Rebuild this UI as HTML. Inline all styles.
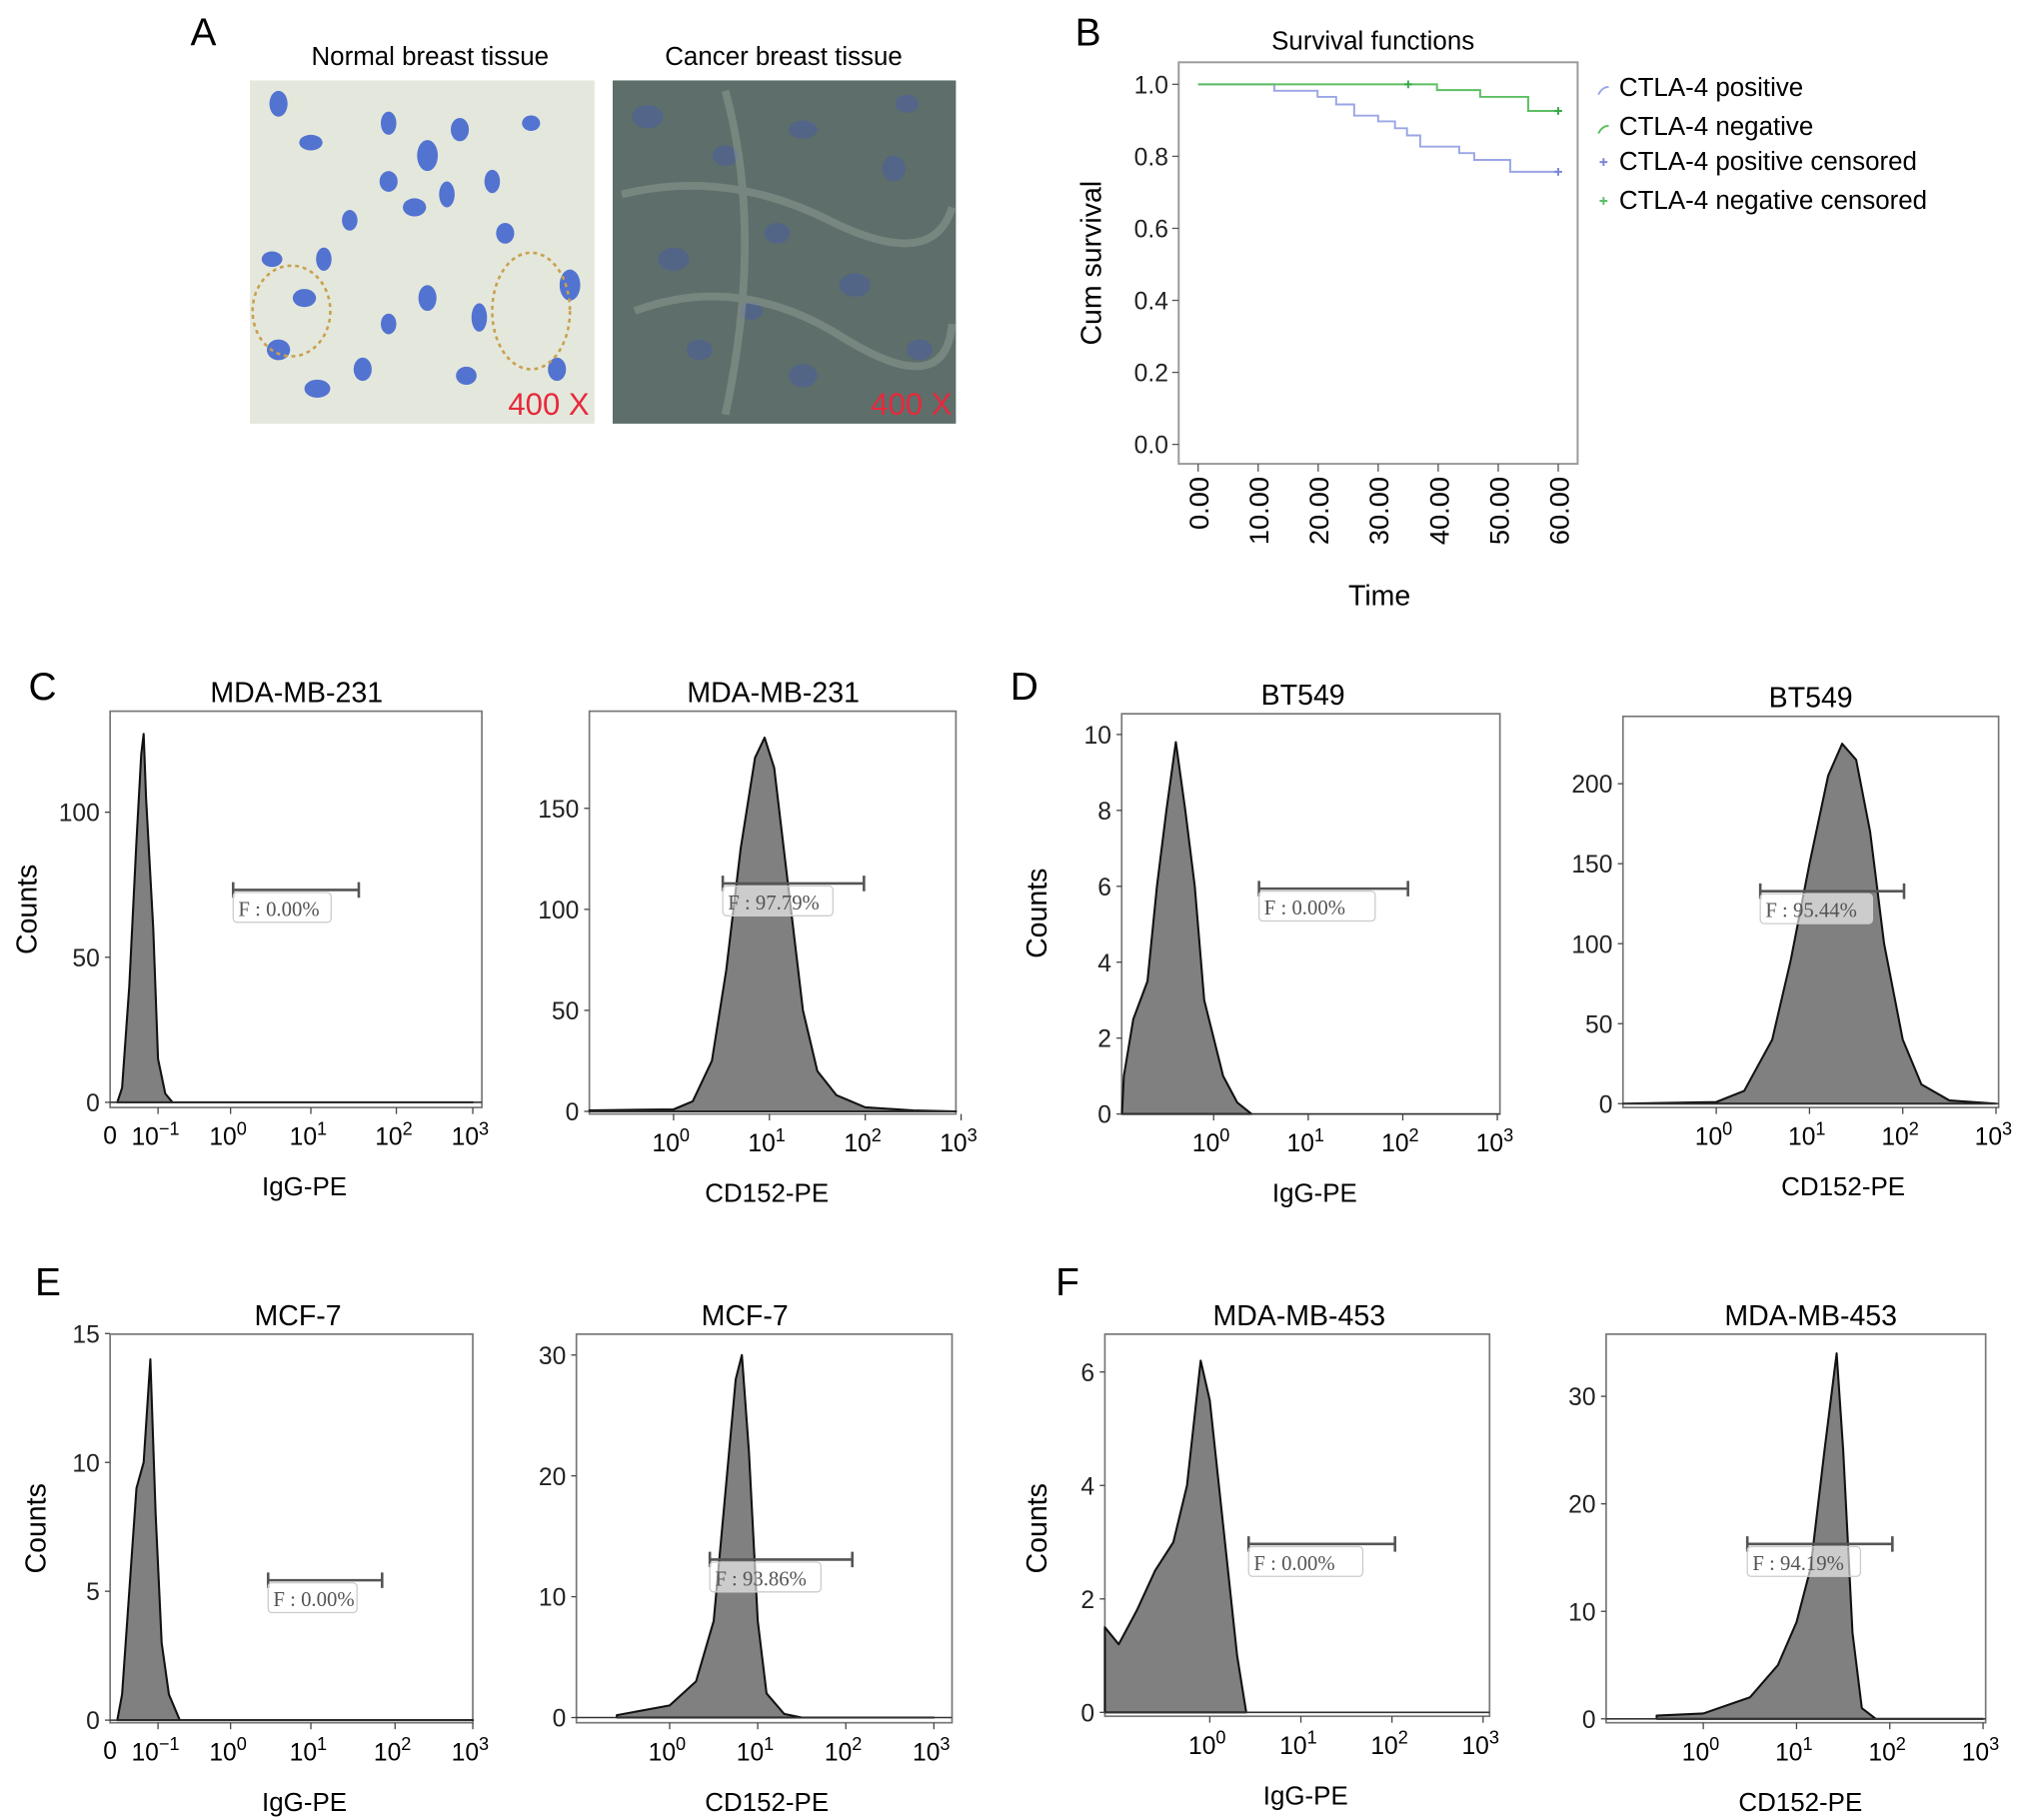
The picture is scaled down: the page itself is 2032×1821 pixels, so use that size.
<!DOCTYPE html>
<html><head><meta charset="utf-8"><style>
html,body{margin:0;padding:0;background:#fff;}
svg{display:block;font-family:"Liberation Sans",Arial,sans-serif;}
</style></head><body>
<svg id="fig" width="2032" height="1821" viewBox="0 0 1568 1405" xmlns="http://www.w3.org/2000/svg">
<rect width="1568" height="1405" fill="#fff"/>
<g>
<text x="147" y="35" font-size="30">A</text>
<text x="332" y="50" font-size="20" text-anchor="middle">Normal breast tissue</text>
<text x="605" y="50" font-size="20" text-anchor="middle">Cancer breast tissue</text>
<g>
<rect x="193" y="62" width="266" height="265" fill="#e4e8dc"/>
<g fill="#3a5fd0" opacity="0.85">
<ellipse cx="215" cy="80" rx="7" ry="10"/><ellipse cx="240" cy="110" rx="9" ry="6"/><ellipse cx="300" cy="95" rx="6" ry="9"/>
<ellipse cx="330" cy="120" rx="8" ry="12"/><ellipse cx="355" cy="100" rx="7" ry="9"/><ellipse cx="320" cy="160" rx="9" ry="7"/>
<ellipse cx="345" cy="150" rx="6" ry="10"/><ellipse cx="300" cy="140" rx="7" ry="8"/><ellipse cx="380" cy="140" rx="6" ry="9"/>
<ellipse cx="210" cy="200" rx="8" ry="6"/><ellipse cx="235" cy="230" rx="9" ry="7"/><ellipse cx="250" cy="200" rx="6" ry="9"/>
<ellipse cx="215" cy="270" rx="9" ry="8"/><ellipse cx="245" cy="300" rx="10" ry="7"/><ellipse cx="280" cy="285" rx="7" ry="9"/>
<ellipse cx="330" cy="230" rx="7" ry="10"/><ellipse cx="300" cy="250" rx="6" ry="8"/><ellipse cx="370" cy="245" rx="6" ry="11"/>
<ellipse cx="390" cy="180" rx="7" ry="8"/><ellipse cx="440" cy="220" rx="8" ry="12"/><ellipse cx="430" cy="285" rx="7" ry="9"/>
<ellipse cx="360" cy="290" rx="8" ry="7"/><ellipse cx="270" cy="170" rx="6" ry="8"/><ellipse cx="410" cy="95" rx="7" ry="6"/>
</g>
<ellipse cx="410" cy="240" rx="30" ry="45" fill="none" stroke="#c9a050" stroke-width="2" stroke-dasharray="3 3"/>
<ellipse cx="225" cy="240" rx="30" ry="35" fill="none" stroke="#c9a050" stroke-width="2" stroke-dasharray="3 3"/>
<text x="455" y="320" font-size="24" fill="#e8283c" text-anchor="end">400 X</text>
</g>
<g>
<rect x="473" y="62" width="265" height="265" fill="#5e6e6a"/>
<g fill="#4a5fa0" opacity="0.55">
<ellipse cx="500" cy="90" rx="12" ry="9"/><ellipse cx="560" cy="120" rx="10" ry="8"/><ellipse cx="620" cy="100" rx="11" ry="7"/>
<ellipse cx="690" cy="130" rx="9" ry="10"/><ellipse cx="520" cy="200" rx="12" ry="9"/><ellipse cx="600" cy="180" rx="10" ry="8"/>
<ellipse cx="660" cy="220" rx="12" ry="9"/><ellipse cx="540" cy="270" rx="10" ry="8"/><ellipse cx="620" cy="290" rx="11" ry="9"/>
<ellipse cx="710" cy="270" rx="10" ry="8"/><ellipse cx="700" cy="80" rx="9" ry="7"/><ellipse cx="580" cy="240" rx="9" ry="7"/>
</g>
<g fill="none" stroke="#8a9690" stroke-width="6" opacity="0.6">
<path d="M480 150 Q560 130 640 170 T735 160"/><path d="M490 240 Q570 210 650 260 T735 250"/><path d="M560 70 Q590 180 560 320"/>
</g>
<text x="735" y="320" font-size="24" fill="#e8283c" text-anchor="end">400 X</text>
</g>
</g>
<g id="panelB"></g>
<g id="hists"></g>
</svg>
<script>
// ---- Survival data (panel B) ----
const survTimeTicks = [0,10,20,30,40,50,60];
const survYTicks = [0.0,0.2,0.4,0.6,0.8,1.0];
const posTimes = [0,12.7,19.9,23,26,30,32.8,34.8,37,43.5,46,52,60];
const posSurv  = [1.0,0.982,0.965,0.944,0.913,0.897,0.878,0.858,0.827,0.809,0.790,0.757,0.757];
const negTimes = [0,39.8,47,55,60];
const negSurv  = [1.0,0.984,0.965,0.926,0.926];
const posCensorT = [60]; const posCensorS = [0.757];
const negCensorT = [35,60]; const negCensorS = [1.0,0.926];

// ---- Flow histogram data (decade x, counts) ----
const c1X=[-1.85,-1.75,-1.6,-1.45,-1.35,-1.3,-1.25,-1.1,-1.0,-0.9,-0.8,3];
const c1Y=[0,5,40,90,120,127,105,60,15,3,0,0];
const c2X=[-0.88,0,0.2,0.4,0.55,0.7,0.85,0.95,1.05,1.2,1.35,1.5,1.7,2,2.5,3];
const c2Y=[0.5,1,5,25,70,130,175,185,170,110,50,20,8,2,0.5,0];
const d1X=[-0.97,-0.95,-0.85,-0.7,-0.6,-0.5,-0.4,-0.3,-0.2,-0.1,0,0.1,0.25,0.4];
const d1Y=[0,1,2.5,3.5,6,8,9.8,8,6,3,2,1,0.3,0];
const d2X=[-1,0,0.3,0.6,0.8,1.0,1.2,1.35,1.5,1.65,1.8,2.0,2.2,2.5,3];
const d2Y=[0,1,8,40,90,150,205,225,215,170,100,40,12,2,0];
const e1X=[-1.85,-1.75,-1.6,-1.45,-1.3,-1.16,-1.05,-0.95,-0.85,-0.7,3];
const e1Y=[0,1,5,9,10,14,8,3,1,0,0];
const e2X=[-0.6,0,0.3,0.5,0.65,0.75,0.82,0.9,1.0,1.1,1.3,1.5,3];
const e2Y=[0.2,1,3,8,20,28,30,22,8,2,0.3,0,0];
const f1X=[-1.16,-1,-0.8,-0.6,-0.4,-0.25,-0.1,0,0.1,0.2,0.3,0.4];
const f1Y=[1.5,1.2,1.8,2.5,3,4,6.2,5.5,4,2.5,1,0];
const f2X=[-0.5,0,0.5,0.8,1.0,1.15,1.3,1.43,1.5,1.6,1.7,1.85,3];
const f2Y=[0.3,0.5,2,5,9,14,25,34,25,8,1,0,0];
const gateLabels=["F : 0.00%","F : 97.79%","F : 0.00%","F : 95.44%","F : 0.00%","F : 93.86%","F : 0.00%","F : 94.19%"];
const NS="http://www.w3.org/2000/svg";
function mk(parent,tag,attrs,text){const e=document.createElementNS(NS,tag);for(const k in attrs)e.setAttribute(k,attrs[k]);if(text!==undefined)e.textContent=text;parent.appendChild(e);return e;}

// ---- Panel B ----
(function(){
const g=document.getElementById('panelB');
const L=910,R=1218,T=48,B=358;
const sx=t=>925+t*(1203-925)/60, sy=s=>343-s*(343-65);
let t=mk(g,'text',{x:830,y:35,'font-size':30},'B');

t=mk(g,'text',{x:1060,y:38,'font-size':20,'text-anchor':'middle'},'Survival functions');

let r=mk(g,'rect',{x:L,y:T,width:R-L,height:B-T,fill:'none',stroke:'#999','stroke-width':1.5});

survYTicks.forEach(v=>{const y=sy(v);mk(g,'line',{x1:L-5,x2:L,y1:y,y2:y,stroke:'#555'});
 const tx=mk(g,'text',{x:L-8,y:y+7,'font-size':19,'text-anchor':'end',fill:'#222'},v.toFixed(1));
 });
survTimeTicks.forEach(v=>{const x=sx(v);mk(g,'line',{x1:x,x2:x,y1:B,y2:B+6,stroke:'#555'});
 const tx=mk(g,'text',{x:x+8,y:368,'font-size':21,'text-anchor':'end',transform:`rotate(-90 ${x+8} 368)`},v.toFixed(2));
 });
t=mk(g,'text',{x:1065,y:467,'font-size':22,'text-anchor':'middle'},'Time');

t=mk(g,'text',{x:850,y:203,'font-size':22,'text-anchor':'middle',transform:'rotate(-90 850 203)'},'Cum survival');

function step(T,S,col,name){let d=`M${sx(T[0])},${sy(S[0])}`;for(let i=1;i<T.length;i++){d+=`H${sx(T[i])}V${sy(S[i])}`;}
 const p=mk(g,'path',{d:d,fill:'none',stroke:col,'stroke-width':1.5});}
step(posTimes,posSurv,'#9aa6e6','ctla4-positive-line');
step(negTimes,negSurv,'#5cbf62','ctla4-negative-line');
function cens(T,S,col,name){T.forEach((tt,i)=>{const x=sx(tt),y=sy(S[i]);const c=mk(g,'path',{d:`M${x-3},${y}H${x+3}M${x},${y-3}V${y+3}`,stroke:col,'stroke-width':1.5});
 });}
cens(posCensorT,posCensorS,'#7a86d6','ctla4-positive-censor-mark');
cens(negCensorT,negCensorS,'#3aa848','ctla4-negative-censor-mark');
const leg=[['CTLA-4 positive','#9aa6e6',74],['CTLA-4 negative','#5cbf62',104],['CTLA-4 positive censored','#7a86d6',131],['CTLA-4 negative censored','#5cbf62',161]];
leg.forEach((l,i)=>{const y=l[2];
 if(i<2)mk(g,'path',{d:`M1234,${y-1}q3,-6 8,-6`,fill:'none',stroke:l[1],'stroke-width':1.5});
 else mk(g,'path',{d:`M1235,${y-6}h6M1238,${y-9}v6`,stroke:l[1],'stroke-width':1.5});
 const tx=mk(g,'text',{x:1250,y:y,'font-size':20},l[0]);
 });
})();

// ---- Histograms ----
(function(){
const g=document.getElementById('hists');
const panels=[
 {name:'c-igg',X:c1X,Y:c1Y,box:[85,549,372,855],y0:851,ypu:2.24,yt:[0,50,100],knotD:[-2,-1,0,1,2,3],knotP:[85,122,178,240,306,365],zero:true,title:'MDA-MB-231',xl:'IgG-PE',tx:229,xlx:235,gate:[180,277,687]},
 {name:'c-cd152',X:c2X,Y:c2Y,box:[455,549,738,860],y0:858,ypu:1.56,yt:[0,50,100,150],knotD:[0,3],knotP:[520,742],title:'MDA-MB-231',xl:'CD152-PE',tx:597,xlx:592,gate:[558,667,682]},
 {name:'d-igg',X:d1X,Y:d1Y,box:[866,551,1158,860],y0:860,ypu:29.3,yt:[0,2,4,6,8,10],knotD:[0,3],knotP:[937,1156],title:'BT549',xl:'IgG-PE',tx:1006,xlx:1015,gate:[972,1087,686]},
 {name:'d-cd152',X:d2X,Y:d2Y,box:[1253,553,1543,855],y0:852,ypu:1.235,yt:[0,50,100,150,200],knotD:[0,3],knotP:[1325,1541],title:'BT549',xl:'CD152-PE',tx:1398,xlx:1423,gate:[1359,1470,688]},
 {name:'e-igg',X:e1X,Y:e1Y,box:[85,1030,365,1330],y0:1328,ypu:19.9,yt:[0,5,10,15],knotD:[-2,-1,0,1,2,3],knotP:[85,122,178,240,305,365],zero:true,title:'MCF-7',xl:'IgG-PE',tx:230,xlx:235,gate:[207,295,1220]},
 {name:'e-cd152',X:e2X,Y:e2Y,box:[445,1030,735,1330],y0:1326,ypu:9.33,yt:[0,10,20,30],knotD:[0,3],knotP:[517,721],title:'MCF-7',xl:'CD152-PE',tx:575,xlx:592,gate:[548,658,1204]},
 {name:'f-igg',X:f1X,Y:f1Y,box:[853,1030,1150,1325],y0:1322,ypu:43.8,yt:[0,2,4,6],knotD:[0,3],knotP:[934,1145],title:'MDA-MB-453',xl:'IgG-PE',tx:1003,xlx:1008,gate:[964,1077,1192]},
 {name:'f-cd152',X:f2X,Y:f2Y,box:[1240,1030,1533,1330],y0:1327,ypu:8.3,yt:[0,10,20,30],knotD:[0,3],knotP:[1315,1531],title:'MDA-MB-453',xl:'CD152-PE',tx:1398,xlx:1390,gate:[1349,1461,1192]}
];
panels.forEach((p,pi)=>{
 const pg=mk(g,'g',{});
 
 const [L,T,R,B]=p.box;
 const sx=d=>{const k=p.knotD,q=p.knotP;let i=0;while(i<k.length-2&&d>k[i+1])i++;return q[i]+(d-k[i])*(q[i+1]-q[i])/(k[i+1]-k[i]);};
 const sy=v=>p.y0-v*p.ypu;
 const fr=mk(pg,'rect',{x:L,y:T,width:R-L,height:B-T,fill:'none',stroke:'#777','stroke-width':1.3});
 
 let d=`M${Math.max(L,sx(p.X[0]))},${sy(0)}`;
 p.X.forEach((x,i)=>{d+=`L${Math.min(R,Math.max(L,sx(x)))},${sy(p.Y[i])}`;});
 d+=`L${Math.min(R,sx(p.X[p.X.length-1]))},${sy(0)}Z`;
 const h=mk(pg,'path',{d:d,fill:'#808080',stroke:'#111','stroke-width':1.6,'stroke-linejoin':'round'});
 
 mk(pg,'line',{x1:L,x2:R,y1:sy(0),y2:sy(0),stroke:'#333','stroke-width':1.2});
 p.yt.forEach(v=>{const y=sy(v);mk(pg,'line',{x1:L-4,x2:L,y1:y,y2:y,stroke:'#444'});
  const tx=mk(pg,'text',{x:L-8,y:y+7,'font-size':19,'text-anchor':'end',fill:'#222'},String(v));
  });
 const decs=p.zero?[-1,0,1,2,3]:[0,1,2,3];
 if(p.zero){const tx=mk(pg,'text',{x:sx(-2),y:B+28,'font-size':19,'text-anchor':'middle'},'0');
  }
 decs.forEach(e=>{const x=sx(e);mk(pg,'line',{x1:x,x2:x,y1:B,y2:B+5,stroke:'#444'});
  const tx=mk(pg,'text',{x:x-2,y:B+29,'font-size':19,'text-anchor':'middle'});
  
  tx.appendChild(document.createTextNode('10'));
  mk(tx,'tspan',{dy:-8,'font-size':14},String(e).replace('-','\u2212'));});
 let tt=mk(pg,'text',{x:p.tx,y:T-7,'font-size':22,'text-anchor':'middle'},p.title);
 
 tt=mk(pg,'text',{x:p.xlx,y:B+68,'font-size':20,'text-anchor':'middle'},p.xl);
 
 const [gx1,gx2,gy]=p.gate;
 const gl=mk(pg,'path',{d:`M${gx1},${gy}H${gx2}M${gx1},${gy-6}v12M${gx2},${gy-6}v12`,stroke:'#555','stroke-width':2});
 
 mk(pg,'rect',{x:gx1,y:gy+2,width:(gx2-gx1)*0.78,height:23,fill:'rgba(255,255,255,0.6)',stroke:'#ccc',rx:3});
 const gt=mk(pg,'text',{x:gx1+4,y:gy+20,'font-size':16,fill:'#555','font-family':'Liberation Serif, serif'},gateLabels[pi]);
 
});
[['C',22,540],['D',780,540],['E',27,1000],['F',815,1000]].forEach(l=>{const t=mk(g,'text',{x:l[1],y:l[2],'font-size':30},l[0]);
 });
[[28,702],[808,705],[35,1180],[808,1180]].forEach(c=>{const t=mk(g,'text',{x:c[0],y:c[1],'font-size':22,'text-anchor':'middle',transform:`rotate(-90 ${c[0]} ${c[1]})`},'Counts');
 });
})();
</script>
</body></html>
